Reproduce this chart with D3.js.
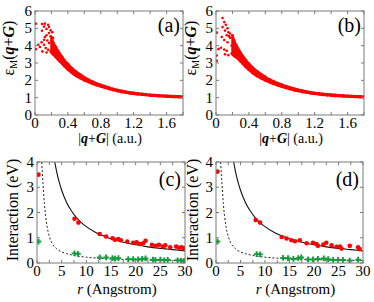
<!DOCTYPE html>
<html><head><meta charset="utf-8">
<script src="https://cdn.jsdelivr.net/npm/d3@7"></script>
<style>
html,body{margin:0;padding:0;background:#fff;}
svg{display:block;}
text{font-family:"Liberation Serif","DejaVu Serif",serif;}
</style></head><body>
<svg id="c" width="374" height="302"></svg>
<script>
// ---------- panels (a)/(b): dielectric function ----------
const qTicks = [0, 0.4, 0.8, 1.2, 1.6];
const epsTicks = [0, 1, 2, 3, 4, 5, 6];
const bandQ   = [0.20,0.22,0.25,0.28,0.30,0.33,0.36,0.40,0.45,0.50,0.55,0.60,0.65,0.70,0.75,0.80,0.85,0.90,0.95,1.00,1.05,1.10,1.15,1.20,1.25,1.30,1.35,1.40,1.45,1.50,1.55,1.60,1.65,1.70,1.75,1.80];
const bandHiA = [4.50,4.20,3.95,3.70,3.55,3.35,3.15,2.95,2.70,2.50,2.33,2.18,2.05,1.93,1.83,1.74,1.66,1.58,1.51,1.45,1.40,1.35,1.31,1.28,1.25,1.22,1.19,1.17,1.15,1.14,1.12,1.11,1.10,1.09,1.08,1.07];
const bandLoA = [3.60,3.50,3.35,3.20,3.10,2.95,2.80,2.62,2.42,2.25,2.12,2.00,1.90,1.80,1.72,1.64,1.57,1.50,1.44,1.38,1.33,1.29,1.25,1.22,1.19,1.17,1.15,1.12,1.11,1.09,1.08,1.06,1.05,1.04,1.03,1.02];
const bandHiB = [4.60,4.30,4.00,3.75,3.58,3.38,3.18,2.97,2.72,2.52,2.35,2.20,2.06,1.94,1.84,1.75,1.67,1.59,1.52,1.46,1.41,1.36,1.32,1.28,1.25,1.22,1.20,1.18,1.16,1.14,1.13,1.11,1.10,1.09,1.08,1.07];
const bandLoB = [3.50,3.40,3.30,3.18,3.08,2.93,2.78,2.60,2.40,2.24,2.11,1.99,1.89,1.79,1.71,1.63,1.56,1.49,1.43,1.38,1.33,1.29,1.25,1.22,1.19,1.16,1.14,1.12,1.10,1.09,1.07,1.06,1.05,1.04,1.03,1.02];
const clusterQA = [0.01,0.01,0.085,0.12,0.16,0.11,0.17,0.14,0.19,0.21,0.085,0.17,0.14,0.12,0.19,0.22,0.11,0.15,0.08,0.04,0.11,0.17,0.20,0.06,0.13,0.16,0.19,0.21,0.09,0.14,0.24];
const clusterEA = [5.27,3.80,5.25,5.27,5.20,5.10,5.08,4.96,4.88,4.77,4.86,4.73,4.60,4.50,4.54,4.44,4.34,4.30,4.19,4.05,4.05,4.15,4.25,3.92,3.86,3.76,3.67,3.57,3.67,3.61,3.47];
const clusterQB = [0.08,0.01,0.01,0.01,0.10,0.12,0.08,0.14,0.11,0.15,0.07,0.13,0.17,0.10,0.14,0.06,0.03,0.10,0.13,0.19,0.11,0.15,0.19,0.17,0.16];
const clusterEB = [5.60,4.75,3.43,3.13,5.36,5.20,5.07,5.00,4.87,4.77,4.50,4.60,4.45,4.33,4.20,3.88,3.80,3.78,3.70,4.00,3.50,3.45,3.55,4.70,4.55];

// ---------- panels (c)/(d): interaction ----------
const rTicks = [0, 5, 10, 15, 20, 25, 30];
const vTicks = [0, 1, 2, 3, 4];
const redRC   = [0.3,7.6,8.4,12.7,14.0,15.3,15.8,16.5,17.0,18.3,19.5,20.2,20.8,21.5,22.0,23.3,24.0,24.7,25.5,26.0,27.0,28.2,28.8,29.3,29.8];
const redVC   = [3.50,1.75,1.60,1.15,1.05,0.98,0.92,0.95,0.90,0.85,0.80,0.82,0.75,0.78,0.88,0.72,0.68,0.72,0.65,0.70,0.62,0.65,0.60,0.62,0.58];
const greenRC = [0.3,7.6,8.3,12.7,14.0,15.3,15.8,16.5,18.5,19.5,20.5,21.3,22.0,23.5,24.0,25.0,25.8,26.5,28.5,29.2,29.8];
const greenVC = [0.85,0.38,0.36,0.22,0.22,0.19,0.17,0.19,0.15,0.15,0.14,0.16,0.18,0.13,0.12,0.13,0.11,0.12,0.11,0.10,0.09];
const redRD   = [0.3,8.1,9.0,13.4,14.4,15.4,16.1,17.1,18.5,19.8,20.5,20.8,21.9,22.5,23.6,24.6,25.3,25.6,27.3,29.0,29.3];
const redVD   = [3.62,1.70,1.60,1.03,0.97,0.90,0.86,0.90,0.78,0.80,0.75,0.68,0.73,0.80,0.70,0.64,0.65,0.57,0.68,0.62,0.55];
const greenRD = [0.3,8.3,9.0,13.7,14.7,15.8,16.8,17.4,18.8,19.8,20.8,22.0,22.9,23.9,24.9,25.9,27.3,29.0];
const greenVD = [0.85,0.35,0.34,0.20,0.19,0.16,0.19,0.22,0.14,0.14,0.16,0.18,0.15,0.12,0.12,0.12,0.10,0.13];
const solidR = [3.6,4.0,4.5,5.0,6.0,7.0,8.0,9.0,10.0,12.0,14.0,16.0,18.0,20.0,22.5,25.0,27.5,30.0];
const solidV = [4.00,3.60,3.20,2.88,2.40,2.06,1.80,1.60,1.44,1.20,1.03,0.90,0.80,0.72,0.64,0.58,0.53,0.48];
const dashR  = [0.95,1.2,1.5,2.0,2.5,3.0,4.0,5.0,6.0,7.5,10.0,12.5,15.0,20.0,25.0,30.0];
const dashV  = [4.00,3.20,2.35,1.50,1.05,0.80,0.56,0.44,0.37,0.30,0.23,0.19,0.16,0.13,0.11,0.10];

const svg = d3.select("#c");
const FONT = "Liberation Serif, DejaVu Serif, serif";
const RED = "#ff0000", GREEN = "#139c3c", FRAME = "#7a7a7a";

function frame(g, x, y, xMinor, yMinor) {
  const [x0, x1] = x.range(), [y0, y1] = y.range();
  g.append("rect").attr("x", x0).attr("y", y1).attr("width", x1 - x0).attr("height", y0 - y1)
    .attr("fill", "none").attr("stroke", FRAME).attr("stroke-width", 1);
  const tl = 3;
  xMinor.forEach(v => {
    const px = x(v);
    g.append("line").attr("x1", px).attr("x2", px).attr("y1", y0).attr("y2", y0 - tl).attr("stroke", FRAME);
    g.append("line").attr("x1", px).attr("x2", px).attr("y1", y1).attr("y2", y1 + tl).attr("stroke", FRAME);
  });
  yMinor.forEach(v => {
    const py = y(v);
    g.append("line").attr("x1", x0).attr("x2", x0 + tl).attr("y1", py).attr("y2", py).attr("stroke", FRAME);
    g.append("line").attr("x1", x1).attr("x2", x1 - tl).attr("y1", py).attr("y2", py).attr("stroke", FRAME);
  });
}

function tickLabels(g, x, y, xt, yt, xfmt, xLabY, yLabX) {
  g.selectAll(null).data(xt).join("text").attr("x", d => x(d)).attr("y", xLabY)
    .attr("font-family", FONT).attr("text-anchor", "middle").attr("font-size", 15).text(xfmt);
  g.selectAll(null).data(yt).join("text").attr("x", yLabX).attr("y", d => y(d) + 5)
    .attr("font-family", FONT).attr("text-anchor", "end").attr("font-size", 15).text(d => d);
}

function topPanel(xr, hi, lo, cq, ce, label, ytX) {
  const x = d3.scaleLinear().domain([0, 1.8]).range(xr);
  const y = d3.scaleLinear().domain([0, 6]).range([115, 11]);
  const g = svg.append("g");
  const clipId = "clip" + label.replace(/[()]/g, "");
  g.append("clipPath").attr("id", clipId).append("rect")
    .attr("x", xr[0]).attr("y", 11).attr("width", xr[1] - xr[0]).attr("height", 104);
  const pg = g.append("g").attr("clip-path", `url(#${clipId})`);
  const area = d3.area().curve(d3.curveMonotoneX).x((d, i) => x(bandQ[i])).y0((d, i) => y(lo[i])).y1((d, i) => y(hi[i]));
  pg.append("path").datum(bandQ).attr("d", area).attr("fill", RED).attr("stroke", RED)
    .attr("stroke-width", 2.4).attr("stroke-linejoin", "round");
  const pts = [];
  bandQ.forEach((q, i) => { pts.push([q, hi[i]]); pts.push([q, lo[i]]); });
  cq.forEach((q, i) => pts.push([q, ce[i]]));
  pg.selectAll(null).data(pts).join("circle").attr("cx", d => x(d[0])).attr("cy", d => y(d[1]))
    .attr("r", 1.3).attr("fill", RED);
  frame(g, x, y, d3.range(0, 1.81, 0.2), epsTicks);
  tickLabels(g, x, y, qTicks, epsTicks, d => d === 0 ? "0" : d.toFixed(1), 128, xr[0] - 3);
  g.append("text").attr("x", xr[1] - 3).attr("y", 32).attr("text-anchor", "end")
    .attr("font-family", FONT).attr("font-size", 20).text(label);
  // x title
  const xt = g.append("text").attr("x", (xr[0] + xr[1]) / 2 + 1).attr("y", 143)
    .attr("font-family", FONT).attr("text-anchor", "middle").attr("font-size", 14);
  xt.append("tspan").text("|");
  xt.append("tspan").attr("font-weight", "bold").attr("font-style", "italic").text("q");
  xt.append("tspan").text("+");
  xt.append("tspan").attr("font-weight", "bold").attr("font-style", "italic").text("G");
  xt.append("tspan").text("| (a.u.)");
  // y title
  const yt = g.append("text").attr("transform", `translate(${ytX},48) rotate(-90)`)
    .attr("font-family", FONT).attr("text-anchor", "middle").attr("font-size", 16);
  yt.append("tspan").text("ε");
  yt.append("tspan").attr("font-size", 10).attr("dy", 3).text("M");
  yt.append("tspan").attr("dy", -3).text("(");
  yt.append("tspan").attr("font-weight", "bold").attr("font-style", "italic").text("q");
  yt.append("tspan").text("+");
  yt.append("tspan").attr("font-weight", "bold").attr("font-style", "italic").text("G");
  yt.append("tspan").text(")");
}

function bottomPanel(xr, rr, rv, gr, gv, label, ytX) {
  const x = d3.scaleLinear().domain([0, 30]).range(xr);
  const y = d3.scaleLinear().domain([0, 4]).range([263, 162]);
  const g = svg.append("g");
  const clipId = "clip" + label.replace(/[()]/g, "");
  g.append("clipPath").attr("id", clipId).append("rect")
    .attr("x", xr[0]).attr("y", 162).attr("width", xr[1] - xr[0]).attr("height", 101);
  const pg = g.append("g").attr("clip-path", `url(#${clipId})`);
  const line = d3.line().curve(d3.curveMonotoneX);
  pg.append("path").attr("d", line(solidR.map((r, i) => [x(r), y(solidV[i])])))
    .attr("fill", "none").attr("stroke", "#111").attr("stroke-width", 1.1);
  pg.append("path").attr("d", line(dashR.map((r, i) => [x(r), y(dashV[i])])))
    .attr("fill", "none").attr("stroke", "#222").attr("stroke-width", 1).attr("stroke-dasharray", "2,2");
  pg.selectAll(null).data(rr).join("circle").attr("cx", d => x(d)).attr("cy", (d, i) => y(rv[i]))
    .attr("r", 2.3).attr("fill", RED);
  const cross = d3.symbol().type(d3.symbolCross).size(18);
  pg.selectAll(null).data(gr).join("path").attr("d", cross)
    .attr("transform", (d, i) => `translate(${x(d)},${y(gv[i])})`).attr("fill", GREEN);
  frame(g, x, y, d3.range(0, 30.1, 2.5), vTicks);
  tickLabels(g, x, y, rTicks, vTicks, d => d, 276, xr[0] - 3);
  g.append("text").attr("x", xr[1] - 4).attr("y", 186).attr("text-anchor", "end")
    .attr("font-family", FONT).attr("font-size", 20).text(label);
  const xt = g.append("text").attr("x", (xr[0] + xr[1]) / 2 + 6).attr("y", 294)
    .attr("font-family", FONT).attr("text-anchor", "middle").attr("font-size", 15);
  xt.append("tspan").attr("font-style", "italic").text("r");
  xt.append("tspan").text(" (Angstrom)");
  g.append("text").attr("transform", `translate(${ytX},210) rotate(-90)`).attr("text-anchor", "middle")
    .attr("font-family", FONT).attr("font-size", 16).text("Interaction (eV)");
}

topPanel([35, 183], bandHiA, bandLoA, clusterQA, clusterEA, "(a)", 14);
topPanel([216, 364], bandHiB, bandLoB, clusterQB, clusterEB, "(b)", 196);
bottomPanel([37, 185], redRC, redVC, greenRC, greenVC, "(c)", 18);
bottomPanel([216, 363], redRD, redVD, greenRD, greenVD, "(d)", 198);
</script></body></html>
